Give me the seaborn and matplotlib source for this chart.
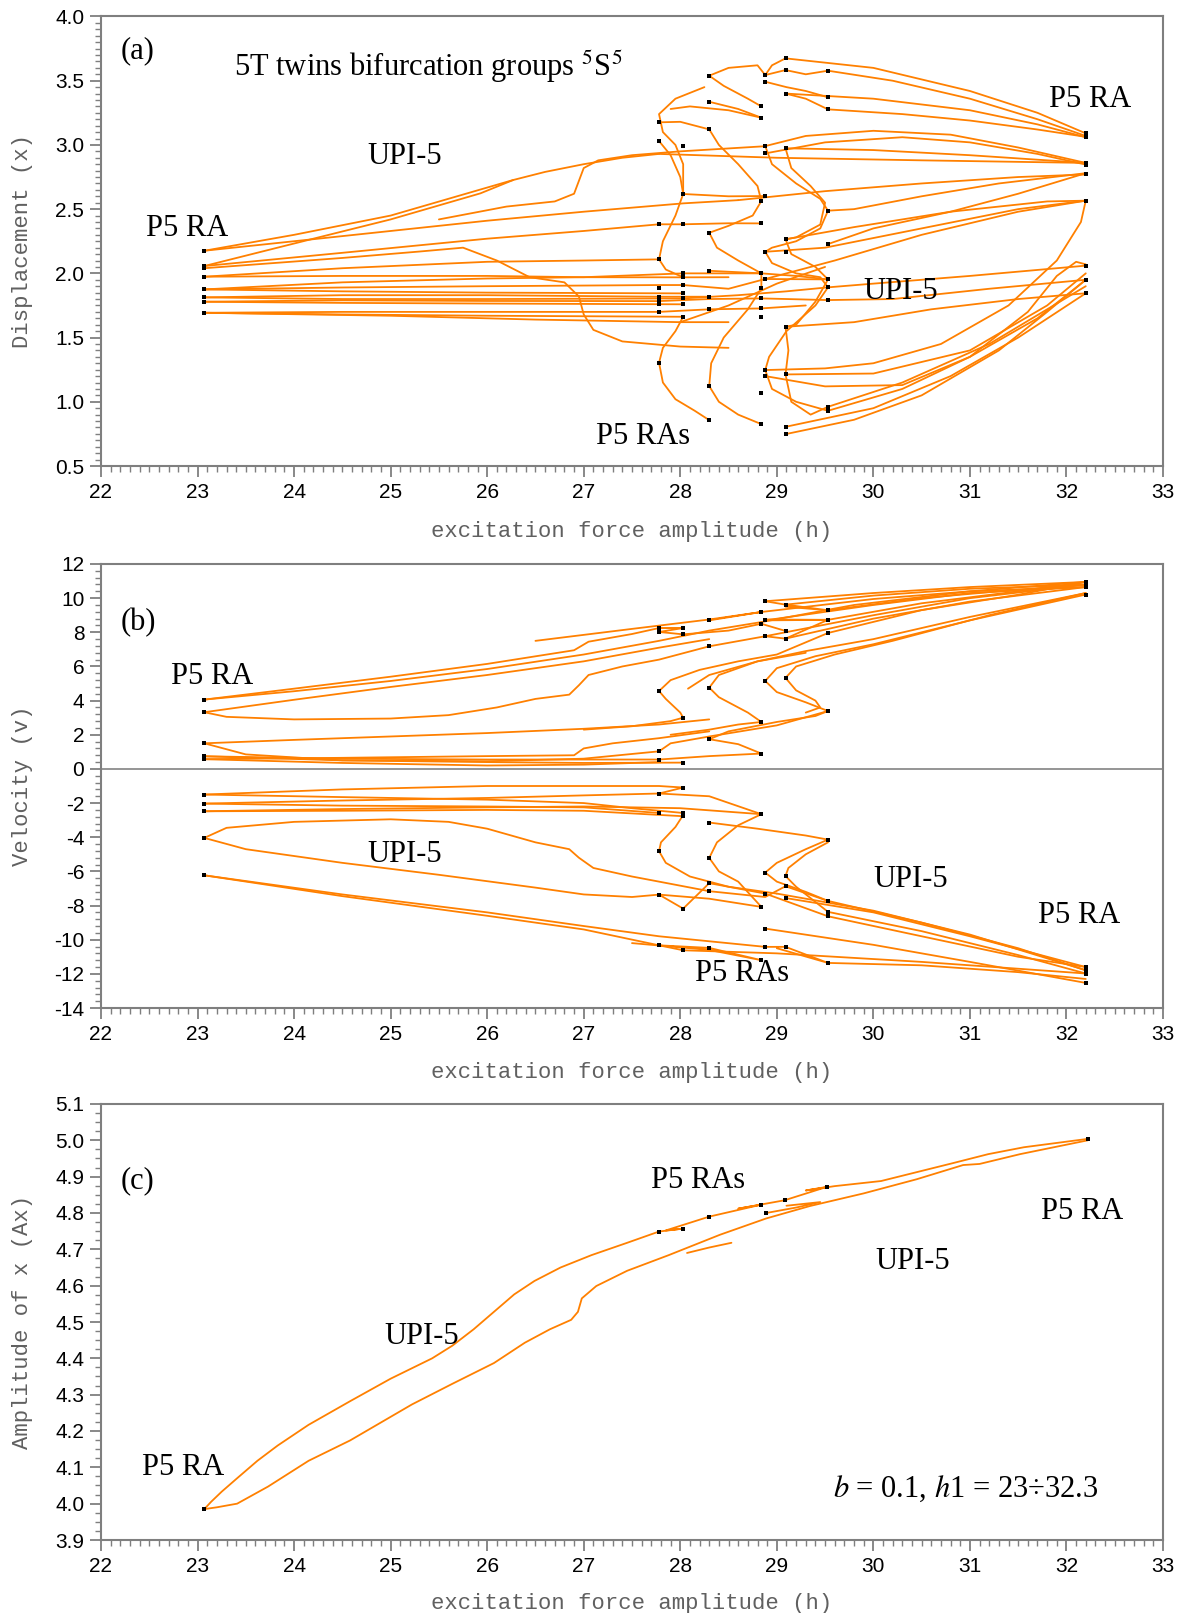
import numpy as np
import pandas as pd
import matplotlib
matplotlib.use("Agg")
import matplotlib.pyplot as plt
import seaborn as sns
from matplotlib.ticker import MultipleLocator

sns.set_style("ticks")
plt.rcParams['font.family'] = ['Liberation Sans', 'DejaVu Sans']
plt.rcParams['mathtext.fontset'] = 'stix'

ORANGE = '#FF8000'
GRAY = '#7f7f7f'

# ---------------- Panel (a): displacement ----------------
A_LEFT = [
    [(23.07, 2.176), (24.0, 2.30), (25.0, 2.45), (26.27, 2.727), (26.6, 2.79), (27.0, 2.85), (27.4, 2.90), (27.78, 2.93)],
    [(23.07, 2.176), (24.5, 2.29), (26.0, 2.41), (27.0, 2.48), (28.03, 2.545), (28.6, 2.57)],
    [(23.07, 2.057), (24.2, 2.27), (25.0, 2.42), (25.93, 2.623), (26.27, 2.727)],
    [(23.07, 2.057), (24.5, 2.16), (26.0, 2.27), (27.0, 2.33), (27.78, 2.382), (28.03, 2.382)],
    [(23.07, 2.04), (24.5, 2.12), (25.3, 2.17), (25.75, 2.20), (26.1, 2.10), (26.44, 1.97), (26.8, 1.93),
     (26.95, 1.82), (27.0, 1.68), (27.1, 1.56), (27.4, 1.47), (28.0, 1.43), (28.5, 1.42)],
    [(23.07, 1.974), (24.5, 2.04), (26.0, 2.09), (27.0, 2.10), (27.78, 2.109)],
    [(23.07, 1.974), (24.5, 1.98), (26.0, 1.98), (27.0, 1.97), (28.03, 1.969), (28.5, 1.97)],
    [(23.07, 1.875), (24.5, 1.93), (26.0, 1.96), (27.0, 1.97), (28.03, 2.0), (28.84, 2.0)],
    [(23.07, 1.875), (24.5, 1.89), (26.0, 1.90), (27.78, 1.909), (28.03, 1.909)],
    [(23.07, 1.875), (24.5, 1.86), (26.0, 1.85), (28.03, 1.844)],
    [(23.07, 1.813), (24.5, 1.83), (26.0, 1.83), (27.78, 1.818), (28.30, 1.818)],
    [(23.07, 1.813), (24.5, 1.80), (26.0, 1.80), (28.03, 1.805)],
    [(23.07, 1.779), (24.5, 1.79), (26.0, 1.785), (27.78, 1.784)],
    [(23.07, 1.779), (24.5, 1.77), (26.0, 1.765), (28.03, 1.759)],
    [(23.07, 1.693), (24.5, 1.70), (26.0, 1.70), (27.78, 1.70)],
    [(23.07, 1.693), (24.5, 1.68), (26.0, 1.67), (28.03, 1.662)],
    [(23.07, 1.693), (25.0, 1.67), (26.5, 1.64), (28.0, 1.62), (28.5, 1.62)],
    [(25.5, 2.42), (26.2, 2.52), (26.7, 2.56), (26.9, 2.62), (26.95, 2.72), (27.0, 2.82), (27.15, 2.88),
     (27.5, 2.92), (28.0, 2.95), (28.88, 2.99)],
]

A_MID = [
    [(28.25, 3.45), (27.95, 3.36), (27.78, 3.24), (27.82, 3.10), (27.95, 3.0), (28.03, 2.85), (28.03, 2.618),
     (27.95, 2.45), (27.82, 2.25), (27.78, 2.109), (27.85, 2.03), (28.03, 1.969)],
    [(27.78, 3.03), (27.9, 2.92), (28.0, 2.75), (28.03, 2.618)],
    [(27.78, 3.176), (28.0, 3.18), (28.3, 3.121)],
    [(28.03, 1.662), (27.95, 1.55), (27.82, 1.42), (27.78, 1.304), (27.82, 1.15), (27.95, 1.02), (28.15, 0.93), (28.30, 0.857)],
    [(28.30, 3.121), (28.4, 3.0), (28.6, 2.85), (28.8, 2.68), (28.84, 2.563), (28.75, 2.45), (28.5, 2.37),
     (28.30, 2.316), (28.38, 2.2), (28.6, 2.1), (28.84, 2.0), (28.84, 1.883), (28.7, 1.72), (28.45, 1.5),
     (28.32, 1.3), (28.30, 1.122), (28.4, 1.0), (28.6, 0.9), (28.84, 0.826)],
    [(28.30, 3.539), (28.45, 3.46), (28.7, 3.36), (28.84, 3.30)],
    [(28.30, 3.336), (28.6, 3.28), (28.84, 3.212)],
    [(28.30, 3.539), (28.5, 3.60), (28.8, 3.62), (28.88, 3.544)],
    [(27.9, 3.28), (28.1, 3.3), (28.5, 3.27), (28.84, 3.212)],
    [(28.88, 2.991), (28.95, 2.85), (29.2, 2.7), (29.45, 2.58), (29.53, 2.488), (29.45, 2.35), (29.2, 2.25),
     (28.95, 2.2), (28.88, 2.168), (28.95, 2.08), (29.2, 2.0), (29.45, 1.97), (29.53, 1.891), (29.4, 1.75),
     (29.1, 1.55), (28.92, 1.35), (28.88, 1.247), (28.95, 1.1), (29.2, 1.0), (29.53, 0.93)],
    [(29.09, 2.974), (29.15, 2.82), (29.35, 2.68), (29.5, 2.55), (29.45, 2.38), (29.2, 2.28), (29.09, 2.265),
     (29.15, 2.15), (29.4, 2.05), (29.53, 1.953), (29.4, 1.78), (29.2, 1.6), (29.09, 1.584), (29.12, 1.4),
     (29.09, 1.213), (29.15, 1.0), (29.35, 0.9), (29.53, 0.961)],
    [(28.88, 3.544), (29.09, 3.583), (29.3, 3.55), (29.53, 3.578)],
    [(28.88, 3.492), (29.1, 3.45), (29.3, 3.42), (29.53, 3.371)],
    [(29.09, 3.40), (29.3, 3.36), (29.53, 3.277)],
    [(29.09, 3.674), (28.95, 3.62), (28.88, 3.544)],
    [(27.78, 1.784), (28.3, 1.80), (28.84, 1.805), (29.53, 1.792)],
    [(28.03, 1.909), (28.5, 1.88), (28.88, 1.956), (29.53, 1.953)],
    [(27.78, 1.70), (28.3, 1.72), (28.84, 1.727), (29.3, 1.75)],
    [(28.03, 1.805), (28.6, 1.83), (29.1, 1.86), (29.53, 1.891)],
    [(28.30, 2.02), (28.84, 2.0), (29.2, 1.98), (29.53, 1.953)],
    [(28.0, 1.62), (28.5, 1.75), (29.0, 1.92), (29.5, 2.05)],
    [(28.03, 2.382), (28.5, 2.39), (28.84, 2.389)],
    [(28.03, 2.618), (28.5, 2.60), (28.88, 2.602)],
]

A_RIGHT = [
    [(29.09, 3.674), (30.0, 3.60), (31.0, 3.42), (31.7, 3.25), (32.2, 3.09)],
    [(29.53, 3.578), (30.2, 3.50), (31.0, 3.36), (31.7, 3.20), (32.2, 3.07)],
    [(29.09, 3.40), (30.0, 3.36), (31.0, 3.27), (31.7, 3.16), (32.2, 3.06)],
    [(29.53, 3.277), (30.3, 3.24), (31.0, 3.19), (31.7, 3.12), (32.2, 3.063)],
    [(28.88, 2.991), (29.3, 3.07), (30.0, 3.11), (30.8, 3.08), (31.5, 2.98), (32.2, 2.86)],
    [(28.88, 2.934), (29.5, 3.02), (30.3, 3.06), (31.0, 3.02), (31.7, 2.93), (32.2, 2.847)],
    [(29.09, 2.974), (30.0, 2.96), (31.0, 2.92), (32.2, 2.86)],
    [(27.78, 2.93), (29.0, 2.90), (30.5, 2.88), (32.2, 2.86)],
    [(32.2, 2.78), (31.5, 2.62), (30.8, 2.48), (30.0, 2.35), (29.53, 2.228)],
    [(32.2, 2.78), (31.3, 2.70), (30.5, 2.60), (29.8, 2.50), (29.53, 2.488)],
    [(28.6, 2.57), (29.5, 2.64), (30.5, 2.70), (31.5, 2.75), (32.2, 2.77)],
    [(29.09, 2.265), (29.8, 2.36), (30.8, 2.48), (31.8, 2.56), (32.2, 2.566)],
    [(28.88, 2.168), (29.5, 2.2), (30.5, 2.35), (31.5, 2.5), (32.2, 2.566)],
    [(28.88, 1.956), (29.6, 2.1), (30.5, 2.3), (31.5, 2.48), (32.2, 2.566)],
    [(32.2, 2.566), (32.15, 2.4), (31.9, 2.1), (31.4, 1.75), (30.7, 1.45), (30.0, 1.3), (29.5, 1.26), (28.88, 1.247)],
    [(29.53, 1.891), (30.0, 1.92), (31.0, 1.98), (32.2, 2.06)],
    [(29.53, 1.792), (30.2, 1.80), (31.2, 1.88), (32.2, 1.95)],
    [(29.09, 1.584), (29.8, 1.62), (30.6, 1.72), (31.5, 1.80), (32.2, 1.845)],
    [(29.09, 0.748), (29.8, 0.86), (30.5, 1.05), (31.3, 1.40), (31.8, 1.70), (32.2, 1.95)],
    [(29.09, 0.805), (30.0, 0.95), (30.8, 1.20), (31.5, 1.50), (32.2, 1.845)],
    [(29.53, 0.93), (30.3, 1.10), (31.0, 1.35), (31.7, 1.65), (32.2, 1.95)],
    [(29.53, 0.961), (30.3, 1.15), (31.2, 1.45), (32.2, 1.90)],
    [(28.88, 1.20), (29.5, 1.12), (30.3, 1.13), (31.0, 1.35), (31.6, 1.70), (31.9, 1.98), (32.1, 2.09), (32.2, 2.07)],
    [(29.09, 1.213), (30.0, 1.22), (31.0, 1.40), (31.8, 1.75), (32.2, 2.0)],
]
A_DOT_H = [23.07] * 8 + [27.78] * 10 + [28.03] * 10 + [28.30] * 9 + [28.84] * 11 + [28.88] * 9 + [29.09] * 10 + [29.53] * 10 + [32.2] * 9
A_DOT_V = [2.176, 2.057, 2.04, 1.974, 1.875, 1.813, 1.779, 1.693,
           3.176, 3.03, 2.382, 2.109, 1.883, 1.818, 1.784, 1.759, 1.70, 1.304,
           2.994, 2.618, 2.382, 2.0, 1.969, 1.909, 1.844, 1.805, 1.759, 1.662,
           3.539, 3.336, 3.121, 2.316, 2.02, 1.818, 1.72, 1.122, 0.857,
           3.30, 3.212, 2.563, 2.389, 2.0, 1.883, 1.805, 1.727, 1.662, 1.07, 0.826,
           3.544, 3.492, 2.991, 2.934, 2.602, 2.168, 1.956, 1.247, 1.20,
           3.674, 3.583, 3.40, 2.974, 2.265, 2.168, 1.584, 1.213, 0.805, 0.748,
           3.578, 3.371, 3.277, 2.488, 2.228, 1.953, 1.891, 1.792, 0.961, 0.93,
           3.09, 3.06, 2.86, 2.847, 2.77, 2.566, 2.06, 1.95, 1.845]

# ---------------- Panel (b): velocity ----------------
B_LEFT = [
    [(23.07, 4.06), (24.0, 4.55), (25.0, 5.15), (26.0, 5.85), (27.0, 6.7), (27.78, 7.5), (28.30, 8.1), (28.84, 8.6)],
    [(23.07, 4.06), (24.0, 4.7), (25.0, 5.4), (26.0, 6.15), (26.9, 6.95), (27.05, 7.45), (27.5, 7.9), (27.78, 8.25), (28.03, 8.25)],
    [(23.07, 3.32), (23.3, 3.05), (24.0, 2.9), (25.0, 2.95), (25.6, 3.15), (26.1, 3.6), (26.5, 4.1), (26.85, 4.35),
     (26.95, 4.9), (27.05, 5.5), (27.4, 6.0), (27.78, 6.4), (28.3, 7.18)],
    [(23.07, 3.32), (24.0, 4.05), (25.0, 4.8), (26.0, 5.5), (27.0, 6.3), (27.78, 7.1), (28.30, 7.6)],
    [(23.07, 1.50), (24.0, 1.7), (25.0, 1.9), (26.0, 2.1), (27.0, 2.35), (27.78, 2.6), (28.30, 2.9)],
    [(23.07, 1.50), (23.5, 0.85), (24.5, 0.5), (26.0, 0.45), (27.0, 0.6), (27.78, 1.03)],
    [(23.07, 0.74), (24.5, 0.6), (26.0, 0.55), (27.0, 0.55), (27.78, 0.55)],
    [(23.07, 0.74), (24.5, 0.5), (26.0, 0.4), (27.0, 0.35), (28.03, 0.37)],
    [(23.07, 0.57), (24.5, 0.35), (26.0, 0.2), (27.0, 0.25), (27.78, 0.4)],
    [(23.07, 0.57), (24.5, 0.65), (26.0, 0.75), (26.9, 0.8), (27.0, 1.2), (27.3, 1.5), (27.78, 1.8), (28.3, 2.2)],
    [(23.07, -1.50), (24.5, -1.2), (26.0, -1.0), (27.0, -1.0), (27.78, -1.0), (28.03, -1.09)],
    [(23.07, -1.50), (24.5, -1.65), (26.0, -1.8), (27.0, -2.0), (27.5, -2.3), (28.03, -2.58)],
    [(23.07, -2.03), (24.5, -1.85), (26.0, -1.7), (27.0, -1.55), (27.78, -1.44)],
    [(23.07, -2.03), (24.5, -2.15), (26.0, -2.2), (27.0, -2.25), (27.78, -2.58)],
    [(23.07, -2.48), (24.5, -2.35), (26.0, -2.25), (27.0, -2.2), (28.0, -2.3), (28.84, -2.65)],
    [(23.07, -2.48), (24.5, -2.45), (26.0, -2.4), (27.0, -2.45), (28.03, -2.77)],
    [(23.07, -4.04), (23.3, -3.45), (24.0, -3.1), (25.0, -2.95), (25.6, -3.1), (26.0, -3.5), (26.5, -4.3),
     (26.85, -4.7), (26.95, -5.2), (27.1, -5.8), (27.5, -6.3), (27.78, -6.6), (28.30, -7.16)],
    [(23.07, -4.04), (23.5, -4.7), (24.5, -5.5), (25.5, -6.2), (26.5, -6.95), (27.0, -7.35), (27.5, -7.5), (27.78, -7.36)],
    [(23.07, -6.23), (24.5, -7.35), (26.0, -8.4), (27.0, -9.2), (27.78, -9.8), (28.88, -10.42)],
    [(23.07, -6.23), (24.5, -7.45), (26.0, -8.6), (27.0, -9.4), (27.78, -10.33), (28.03, -10.62)],
]

B_MID = [
    [(27.78, 4.56), (27.9, 5.2), (28.2, 5.8), (28.6, 6.3), (29.0, 6.7), (29.53, 7.96)],
    [(27.78, 4.56), (27.85, 4.1), (28.0, 3.3), (28.03, 3.0), (27.9, 2.8), (27.5, 2.5), (27.0, 2.3)],
    [(28.30, 4.76), (28.4, 5.5), (28.8, 6.3), (29.3, 6.9), (30.0, 7.6), (31.0, 8.9), (32.2, 10.3)],
    [(28.30, 4.76), (28.4, 4.2), (28.7, 3.3), (28.84, 2.75), (28.6, 2.6), (28.3, 2.3), (27.9, 2.0)],
    [(28.88, 5.15), (29.0, 5.9), (29.4, 6.6), (30.0, 7.3), (31.0, 8.7), (32.2, 10.21)],
    [(28.88, 5.15), (29.0, 4.5), (29.3, 3.9), (29.53, 3.39), (29.4, 3.1), (29.0, 2.75), (28.5, 2.2), (28.30, 1.74)],
    [(29.09, 5.33), (29.2, 6.0), (29.6, 6.7), (30.2, 7.5), (31.2, 9.0), (32.2, 10.3)],
    [(29.09, 5.33), (29.2, 4.6), (29.4, 4.0), (29.45, 3.6), (29.3, 3.3)],
    [(28.30, 1.74), (28.6, 1.45), (28.84, 0.90), (28.3, 0.75), (27.78, 0.55)],
    [(27.78, 1.03), (27.9, 1.5), (28.3, 1.9), (29.0, 2.55), (29.53, 3.39)],
    [(28.08, 4.7), (28.3, 5.5), (28.8, 6.3), (29.3, 6.8)],
    [(27.78, 8.25), (28.03, 8.25), (27.78, 8.02), (28.03, 7.88), (28.5, 8.1), (28.84, 8.5), (29.09, 8.08)],
    [(28.30, 8.70), (28.84, 9.19), (28.3, 8.75), (27.5, 8.2), (26.5, 7.5)],
    [(28.30, 7.18), (28.88, 7.77), (29.09, 7.63), (29.53, 8.73)],
    [(28.88, 9.82), (29.09, 9.62), (29.53, 9.29), (29.09, 9.5)],
    [(28.88, 8.70), (29.53, 8.73), (28.88, 8.75)],
    [(28.03, -1.09), (27.78, -1.44), (28.3, -1.6), (28.84, -2.65)],
    [(28.03, -2.7), (27.95, -3.4), (27.8, -4.3), (27.78, -4.82), (27.85, -5.5), (28.1, -6.3), (28.5, -6.9), (29.0, -7.3)],
    [(28.84, -2.65), (28.6, -3.3), (28.38, -4.3), (28.30, -5.21), (28.4, -6.0), (28.6, -6.6), (28.84, -8.08)],
    [(28.30, -3.14), (28.8, -3.5), (29.3, -3.9), (29.53, -4.14)],
    [(29.53, -4.14), (29.3, -4.7), (29.0, -5.5), (28.88, -6.07), (29.0, -6.6), (29.3, -7.2), (29.53, -7.73)],
    [(29.53, -4.3), (29.3, -5.0), (29.12, -5.8), (29.09, -6.27), (29.2, -6.9), (29.53, -8.37)],
    [(27.78, -7.36), (28.03, -8.18), (28.30, -6.69), (28.88, -7.30), (29.53, -8.63)],
    [(28.30, -7.16), (28.88, -7.5), (29.09, -6.87), (29.53, -7.73)],
    [(27.78, -10.33), (28.30, -10.48), (28.84, -11.2), (28.3, -10.6), (27.5, -10.2)],
    [(28.88, -10.42), (29.09, -10.42), (29.53, -11.36), (29.0, -10.5)],
    [(28.84, -8.08), (28.3, -7.6), (27.78, -7.36)],
]

B_RIGHT = [
    [(28.88, 9.82), (30.0, 10.3), (31.0, 10.65), (32.2, 10.95)],
    [(29.09, 9.62), (30.0, 10.15), (31.0, 10.55), (32.2, 10.79)],
    [(28.84, 9.19), (30.0, 9.95), (31.0, 10.4), (32.2, 10.65)],
    [(29.53, 9.29), (30.5, 10.0), (31.5, 10.5), (32.2, 10.79)],
    [(28.88, 8.70), (30.0, 9.6), (31.0, 10.3), (32.2, 10.65)],
    [(29.53, 8.73), (30.5, 9.7), (31.5, 10.4), (32.2, 10.95)],
    [(28.88, 7.77), (30.0, 9.0), (31.0, 10.0), (32.2, 10.79)],
    [(29.09, 7.63), (30.0, 8.8), (31.0, 9.8), (32.2, 10.65)],
    [(29.53, 7.96), (30.5, 9.3), (31.5, 10.2), (32.2, 10.95)],
    [(28.84, 8.6), (29.8, 9.6), (31.0, 10.4), (32.2, 10.95)],
    [(29.09, -7.56), (30.0, -8.4), (31.0, -9.8), (32.2, -11.6)],
    [(29.53, -7.73), (30.5, -9.0), (31.5, -10.5), (32.2, -11.79)],
    [(29.53, -8.37), (30.5, -9.5), (31.5, -10.9), (32.2, -11.98)],
    [(29.53, -8.63), (30.5, -9.8), (31.5, -11.0), (32.2, -11.6)],
    [(29.0, -7.3), (30.0, -8.3), (31.0, -9.7), (32.2, -11.79)],
    [(28.88, -9.35), (30.0, -10.3), (31.0, -11.3), (32.2, -12.53)],
    [(29.53, -11.36), (30.5, -11.5), (31.5, -11.9), (32.2, -12.3)],
    [(28.03, -10.62), (29.0, -10.8), (30.5, -11.3), (32.2, -11.98)],
]
B_DOT_H = ([23.07] * 10 + [32.2] * 8 + [28.88, 29.09, 28.84, 28.30, 29.53, 27.78, 28.03, 27.78, 28.03, 28.88, 28.84, 29.09,
                                       28.88, 29.09, 29.53, 29.53, 28.30, 28.88, 29.09, 27.78, 28.30, 28.03, 28.84, 29.53,
                                       28.30, 27.78, 27.78, 28.03, 28.84]
           + [28.03, 27.78, 27.78, 28.03, 28.03, 28.84, 28.30, 29.53, 27.78, 28.30, 28.88, 29.09, 28.30, 28.30, 29.09,
              28.88, 27.78, 29.09, 28.03, 28.84, 29.53, 29.53, 29.53, 28.88, 27.78, 28.03, 28.30, 28.88, 29.09, 28.84, 29.53])
B_DOT_V = ([4.06, 3.32, 1.50, 0.74, 0.57, -1.50, -2.03, -2.48, -4.04, -6.23,
            10.95, 10.79, 10.65, 10.21, -11.6, -11.79, -11.98, -12.53,
            9.82, 9.62, 9.19, 8.70, 9.29, 8.25, 8.25, 8.02, 7.88, 8.70, 8.5, 8.08,
            7.77, 7.63, 8.73, 7.96, 7.18, 5.15, 5.33, 4.56, 4.76, 3.0, 2.75, 3.39,
            1.74, 1.03, 0.55, 0.37, 0.90]
           + [-1.09, -1.44, -2.58, -2.58, -2.77, -2.65, -3.14, -4.14, -4.82, -5.21, -6.07, -6.27, -6.69, -7.16, -6.87,
              -7.30, -7.36, -7.56, -8.18, -8.08, -7.73, -8.37, -8.63, -9.35, -10.33, -10.62, -10.48, -10.42, -10.42, -11.2, -11.36])

# ---------------- Panel (c): amplitude ----------------
C_BRANCHES = [
    [(23.07, 3.985), (23.14, 4.005), (23.25, 4.033), (23.41, 4.07), (23.62, 4.118), (23.83, 4.16), (24.15, 4.217),
     (24.58, 4.282), (25.0, 4.344), (25.43, 4.40), (25.64, 4.435), (25.86, 4.48), (26.07, 4.528), (26.28, 4.576),
     (26.49, 4.613), (26.76, 4.65), (27.08, 4.684), (27.45, 4.718), (27.78, 4.749), (28.03, 4.757), (27.85, 4.752),
     (28.30, 4.79), (28.84, 4.823), (28.6, 4.812), (29.08, 4.835), (29.52, 4.872), (29.3, 4.862), (29.6, 4.874),
     (30.08, 4.888), (30.82, 4.937), (31.19, 4.962), (31.56, 4.981), (32.22, 5.004)],
    [(23.07, 3.985), (23.2, 3.99), (23.41, 4.0), (23.73, 4.047), (24.15, 4.118), (24.58, 4.174), (25.22, 4.273),
     (25.64, 4.33), (26.07, 4.387), (26.39, 4.443), (26.65, 4.48), (26.87, 4.506), (26.94, 4.528), (26.98, 4.565),
     (27.13, 4.599), (27.45, 4.641), (27.88, 4.684), (28.41, 4.74), (28.89, 4.785), (29.34, 4.819), (29.9, 4.854),
     (30.45, 4.893), (30.93, 4.932), (31.1, 4.935), (31.52, 4.962), (32.22, 5.0)],
    [(28.07, 4.69), (28.3, 4.705), (28.53, 4.718)],
    [(28.89, 4.80), (29.2, 4.815), (29.45, 4.83), (29.1, 4.82)],
]
C_DOT_H = [23.07, 27.78, 28.03, 28.30, 28.84, 28.89, 29.08, 29.52, 32.22]
C_DOT_V = [3.985, 4.749, 4.757, 4.79, 4.823, 4.80, 4.835, 4.872, 5.004]

# ---------------- text ----------------
XLABEL = 'excitation force amplitude (h)'
YLABELS = ['Displacement (x)', 'Velocity (v)', 'Amplitude of x (Ax)']


def to_df(branches):
    rows = []
    for i, b in enumerate(branches):
        for j, (h, v) in enumerate(b):
            rows.append((i, j, h, v))
    return pd.DataFrame(rows, columns=['branch', 'order', 'h', 'v'])


def draw(ax, branches, dh, dv):
    df = to_df(branches)
    sns.lineplot(data=df, x='h', y='v', units='branch', estimator=None, sort=False,
                 color=ORANGE, lw=1.3, ax=ax, legend=False)
    sns.scatterplot(x=dh, y=dv, color='black', marker='s', s=5, linewidth=0, ax=ax, zorder=5)


fig = plt.figure(figsize=(11.86, 16.13), dpi=100)
L, W = 101 / 1186, 1062 / 1186
axa = fig.add_axes([L, 1 - 466 / 1613, W, 449.5 / 1613])
axb = fig.add_axes([L, 1 - 1008 / 1613, W, 444 / 1613])
axc = fig.add_axes([L, 1 - 1540 / 1613, W, 436 / 1613])

draw(axa, A_LEFT + A_MID + A_RIGHT, A_DOT_H, A_DOT_V)
draw(axb, B_LEFT + B_MID + B_RIGHT, B_DOT_H, B_DOT_V)
axb.axhline(0, color='#8c8c8c', lw=1.3, zorder=1)
draw(axc, C_BRANCHES, C_DOT_H, C_DOT_V)

specs = [
    (axa, (0.5, 4.0), 0.5, 0.05, '{:.1f}'),
    (axb, (-14, 12), 2, 0.4, '{:.0f}'),
    (axc, (3.9, 5.1), 0.1, 0.025, '{:.1f}'),
]
for (ax, (y0, y1), maj, mnr, fmt), yl in zip(specs, YLABELS):
    ticks = np.arange(22, 34, 1)
    ax.set_xticks(ticks)
    ax.set_xticklabels([str(t) for t in ticks])
    ax.xaxis.set_minor_locator(MultipleLocator(0.1))
    yt = np.arange(y0, y1 + maj / 2, maj)
    ax.set_yticks(yt)
    ax.set_yticklabels([fmt.format(t) for t in yt])
    ax.yaxis.set_minor_locator(MultipleLocator(mnr))
    ax.set_xlim(22, 33)
    ax.set_ylim(y0, y1)
    for sp in ax.spines.values():
        sp.set_visible(True)
        sp.set_color(GRAY)
        sp.set_linewidth(1.5)
    ax.tick_params(which='major', direction='out', length=8, width=1.3, color=GRAY,
                   labelsize=15, labelcolor='black', pad=4)
    ax.tick_params(which='minor', direction='out', length=4, width=1.0, color=GRAY)
    ax.set_xlabel(XLABEL, family=['Liberation Mono', 'DejaVu Sans Mono'], fontsize=16, color='#606060')
    ax.set_ylabel(yl, family=['Liberation Mono', 'DejaVu Sans Mono'], fontsize=16, color='#606060')
    ax.xaxis.set_label_coords(0.5, -0.122)
    ax.yaxis.set_label_coords(-0.064, 0.5)

SERIF = ['Liberation Serif', 'DejaVu Serif']
TS = 22


def note(ax, x, y, s, ha='left'):
    ax.text(x, y, s, family=SERIF, fontsize=TS, ha=ha, va='center', color='black')


note(axa, 22.2, 3.73, '(a)')
note(axa, 23.38, 3.61, r'5T twins bifurcation groups $^5$S$^5$')
note(axa, 24.76, 2.91, 'UPI-5')
note(axa, 22.47, 2.35, 'P5 RA')
note(axa, 31.82, 3.35, 'P5 RA')
note(axa, 29.9, 1.86, 'UPI-5')
note(axa, 27.13, 0.73, 'P5 RAs')

note(axb, 22.2, 8.57, '(b)')
note(axb, 22.73, 5.43, 'P5 RA')
note(axb, 24.76, -5.0, 'UPI-5')
note(axb, 30.0, -6.5, 'UPI-5')
note(axb, 31.71, -8.6, 'P5 RA')
note(axb, 28.15, -12.0, 'P5 RAs')

note(axc, 22.2, 4.89, '(c)')
note(axc, 27.70, 4.89, 'P5 RAs')
note(axc, 31.74, 4.805, 'P5 RA')
note(axc, 30.02, 4.667, 'UPI-5')
note(axc, 24.93, 4.46, 'UPI-5')
note(axc, 22.42, 4.10, 'P5 RA')
note(axc, 29.58, 4.04, r'$b$ = 0.1, $h$1 = 23÷32.3')

fig.savefig('out.png', dpi=100)
